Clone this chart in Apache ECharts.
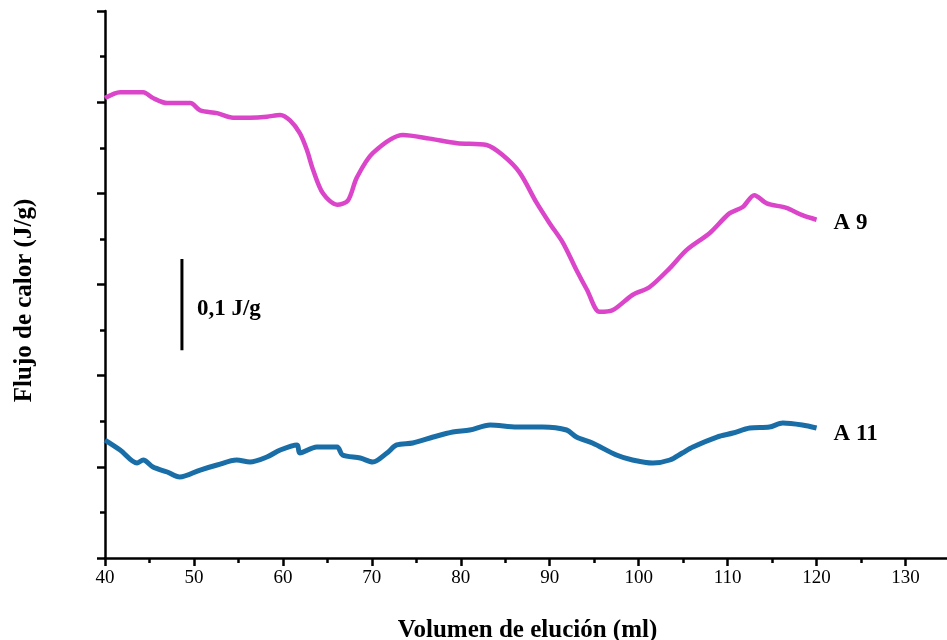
<!DOCTYPE html>
<html>
<head>
<meta charset="utf-8">
<script src="https://cdn.jsdelivr.net/npm/echarts@6/dist/echarts.min.js"></script>
<style>html,body{margin:0;padding:0;background:#fff;}#c{width:947px;height:640px;}</style>
</head>
<body>
<div id="c"></div>
<script>
// A 9 trace (x: ml, y: J/g offset)
const a9X = [40,41.7,44.3,45.4,47.0,49.6,50.7,52.6,54.4,56.3,58.2,59.7,60.8,61.9,62.7,63.4,64.5,66.1,67.3,68.3,70.1,73.5,76.5,79.6,82.9,84.7,86.6,88.5,90.0,91.5,93.0,94.2,95.6,97.1,99.3,101.2,103.5,105.4,108.0,110.2,111.7,113.0,114.4,116.6,118.4,120.0];
const a9Y = [0.5045,0.511,0.511,0.5045,0.499,0.499,0.491,0.488,0.483,0.483,0.484,0.486,0.480,0.466,0.4475,0.4256,0.400,0.3875,0.392,0.417,0.444,0.464,0.460,0.455,0.453,0.442,0.423,0.390,0.367,0.3455,0.316,0.294,0.270,0.272,0.2885,0.297,0.318,0.338,0.3565,0.378,0.385,0.398,0.389,0.384,0.376,0.371];
// A 11 trace
const a11X = [40,41.7,43.6,44.3,45.4,47.0,48.4,50.7,52.6,54.8,56.3,58.2,59.7,61.6,61.9,63.8,66.1,66.7,68.7,70.1,71.7,72.8,74.6,76.9,79.1,81.0,83.3,86.3,89.2,91.9,93.0,94.8,97.5,99.3,101.6,103.5,104.9,106.1,108.8,110.6,112.5,114.7,116.2,118.4,120.0];
const a11Y = [0.1294,0.1185,0.1042,0.1075,0.0998,0.0943,0.0888,0.0965,0.102,0.1075,0.1053,0.1108,0.1185,0.124,0.1152,0.1218,0.1218,0.113,0.1097,0.1053,0.1152,0.124,0.1261,0.1327,0.1382,0.1404,0.1459,0.1437,0.1437,0.1404,0.1327,0.1261,0.113,0.1075,0.1042,0.1075,0.1152,0.1218,0.1327,0.1371,0.1426,0.1437,0.1481,0.1459,0.1426];
// scale bar: 0.1 J/g
const scaleX = 48.65;
const scaleY = [0.228, 0.328];
const scaleText = '0,1 J/g';
const labels = ['A 9', 'A 11'];
const xTicks = [40,50,60,70,80,90,100,110,120,130];

const zip = (xs, ys) => xs.map((x, i) => [x, ys[i]]);
const serif = '"Liberation Serif", "DejaVu Serif", serif';

const chart = echarts.init(document.getElementById('c'), null, {renderer: 'canvas'});
chart.setOption({
  animation: false,
  backgroundColor: '#fff',
  grid: {left: 105, right: -3, top: 11, bottom: 82, containLabel: false, outerBoundsMode: 'none'},
  xAxis: {
    type: 'value', min: 40, max: 135, interval: 10,
    name: 'Volumen de elución (ml)', nameLocation: 'middle', nameGap: 60,
    nameTextStyle: {fontFamily: serif, fontWeight: 'bold', fontSize: 25, color: '#000'},
    axisLine: {lineStyle: {color: '#000', width: 2.5}},
    axisTick: {length: 8, lineStyle: {color: '#000', width: 2.5}},
    minorTick: {show: true, splitNumber: 2, length: 5, lineStyle: {color: '#000', width: 2.5}},
    axisLabel: {fontFamily: serif, fontSize: 19, color: '#000', margin: 11,
      formatter: v => xTicks.includes(v) ? String(v) : ''},
    splitLine: {show: false}
  },
  yAxis: {
    type: 'value', min: 0, max: 0.6, interval: 0.1,
    name: 'Flujo de calor (J/g)', nameLocation: 'middle', nameGap: 68, nameRotate: 90,
    nameTextStyle: {fontFamily: serif, fontWeight: 'bold', fontSize: 25, color: '#000', padding: [0, 32, 0, 0]},
    axisLine: {lineStyle: {color: '#000', width: 2.5}},
    axisTick: {length: 8, lineStyle: {color: '#000', width: 2.5}},
    minorTick: {show: true, splitNumber: 2, length: 5, lineStyle: {color: '#000', width: 2.5}},
    axisLabel: {show: false},
    splitLine: {show: false}
  },
  series: [
    {
      type: 'line', data: zip(a9X, a9Y), showSymbol: false, smooth: 0.3,
      lineStyle: {color: '#da45c9', width: 4.5}, z: 3,
      endLabel: {show: true, formatter: labels[0], distance: 17, fontFamily: serif, fontWeight: 'bold', fontSize: 23, color: '#000', offset: [0, 3]}
    },
    {
      type: 'line', data: zip(a11X, a11Y), showSymbol: false, smooth: 0.3,
      lineStyle: {color: '#1a6ea8', width: 5}, z: 3,
      endLabel: {show: true, formatter: labels[1], distance: 17, fontFamily: serif, fontWeight: 'bold', fontSize: 23, color: '#000', offset: [0, 6]}
    },
    {
      type: 'line', data: [[scaleX, scaleY[0]], [scaleX, scaleY[1]]], showSymbol: false,
      lineStyle: {color: '#000', width: 3}, z: 4
    },
    {
      type: 'scatter', symbolSize: 0,
      data: [[scaleX, (scaleY[0] + scaleY[1]) / 2]],
      itemStyle: {opacity: 1},
      label: {show: true, position: 'right', distance: 15, formatter: scaleText,
        fontFamily: serif, fontWeight: 'bold', fontSize: 23, color: '#000', offset: [0, 5]}
    }
  ]
});
</script>
</body>
</html>
